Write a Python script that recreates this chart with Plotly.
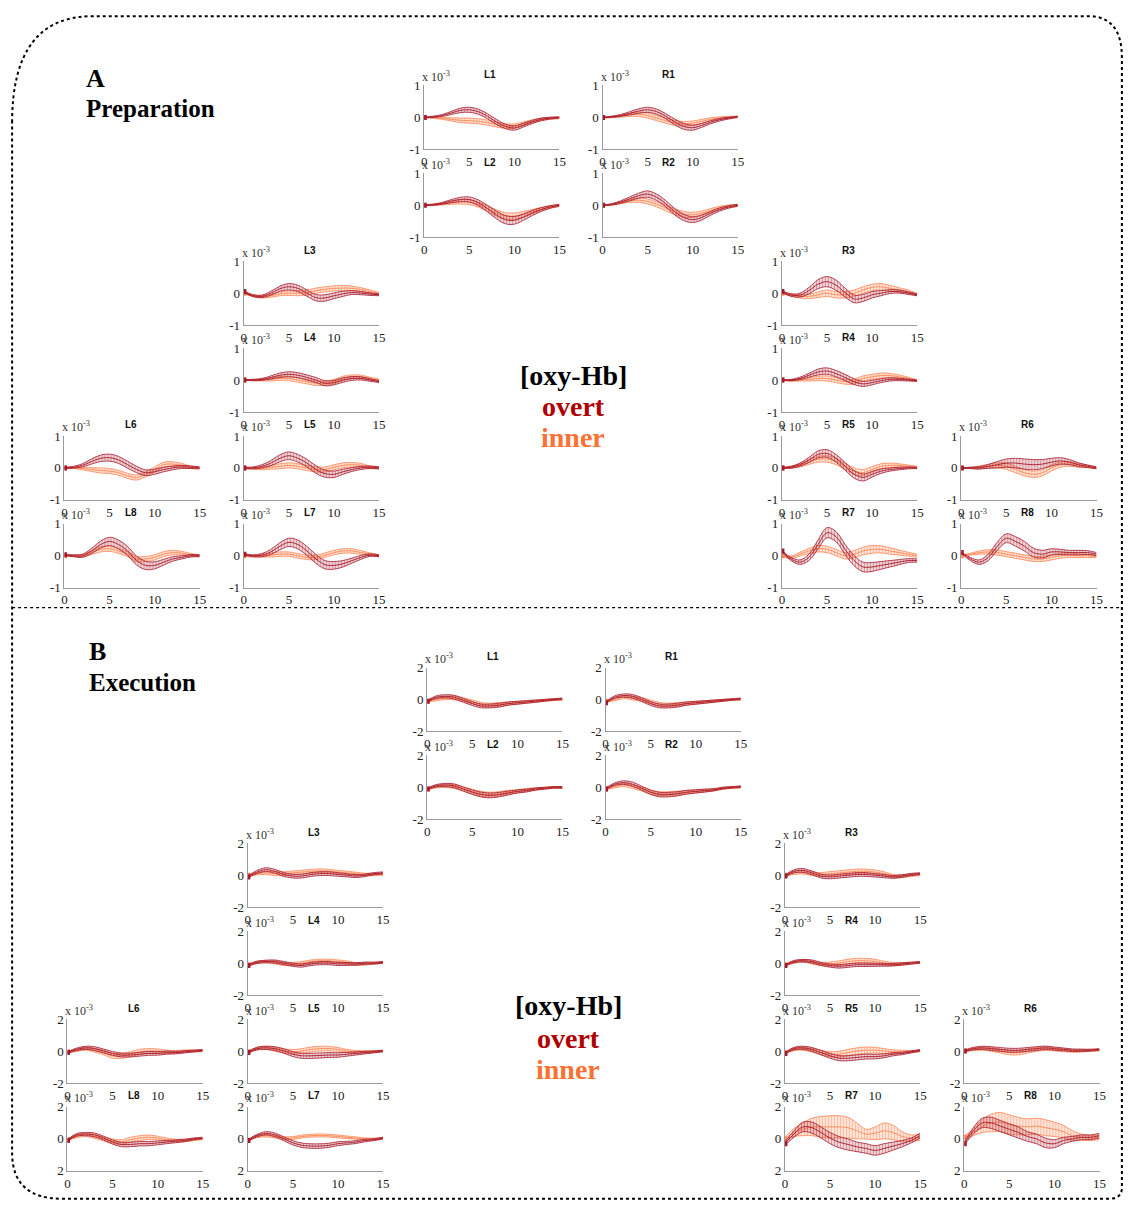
import plotly.graph_objects as go

W, H = 1137, 1216          # target window
OFF = 8                    # browser body margin
FW, FH = W - 2 * OFF, H - 2 * OFF
SX, OX = 0.99, 5.7         # empirical screen mapping (x_screen = OX + SX * x_page)
SY, OY = 0.989, 6.5
T = list(range(16))

# ---------------- Section A : Preparation (values x 1e-3) ----------------
A_L1_overt = [0, 0.02, 0.06, 0.14, 0.22, 0.24, 0.18, 0.04, -0.14, -0.28, -0.33, -0.24, -0.14, -0.06, -0.02, 0.0]
A_L1_overt_sd = [0.01, 0.02, 0.03, 0.05, 0.07, 0.08, 0.08, 0.08, 0.08, 0.07, 0.07, 0.06, 0.05, 0.04, 0.03, 0.02]
A_L1_inner = [0, -0.01, -0.03, -0.06, -0.09, -0.1, -0.12, -0.16, -0.22, -0.27, -0.27, -0.2, -0.12, -0.06, -0.03, -0.02]
A_L1_inner_sd = [0.01, 0.02, 0.03, 0.05, 0.07, 0.08, 0.08, 0.08, 0.08, 0.07, 0.07, 0.06, 0.05, 0.04, 0.03, 0.02]

A_R1_overt = [0, 0.02, 0.06, 0.13, 0.2, 0.24, 0.18, 0.04, -0.14, -0.28, -0.32, -0.25, -0.15, -0.07, -0.02, 0.02]
A_R1_overt_sd = [0.01, 0.02, 0.03, 0.05, 0.07, 0.08, 0.08, 0.08, 0.09, 0.09, 0.08, 0.06, 0.05, 0.04, 0.03, 0.02]
A_R1_inner = [0, 0.01, 0.04, 0.08, 0.1, 0.06, -0.02, -0.1, -0.17, -0.2, -0.18, -0.12, -0.06, -0.02, 0.0, 0.02]
A_R1_inner_sd = [0.01, 0.02, 0.03, 0.05, 0.07, 0.08, 0.08, 0.08, 0.08, 0.07, 0.07, 0.06, 0.05, 0.04, 0.03, 0.02]

A_L2_overt = [0, 0.02, 0.06, 0.13, 0.18, 0.18, 0.08, -0.1, -0.3, -0.45, -0.47, -0.37, -0.24, -0.13, -0.05, 0.0]
A_L2_overt_sd = [0.01, 0.02, 0.03, 0.05, 0.07, 0.08, 0.09, 0.1, 0.12, 0.13, 0.12, 0.1, 0.08, 0.06, 0.04, 0.03]
A_L2_inner = [0, 0.01, 0.04, 0.08, 0.11, 0.1, 0.02, -0.1, -0.24, -0.33, -0.34, -0.28, -0.2, -0.12, -0.05, 0.0]
A_L2_inner_sd = [0.01, 0.02, 0.03, 0.05, 0.07, 0.08, 0.08, 0.09, 0.1, 0.1, 0.1, 0.09, 0.07, 0.05, 0.04, 0.03]

A_R2_overt = [0, 0.03, 0.1, 0.2, 0.3, 0.35, 0.25, 0.05, -0.2, -0.38, -0.45, -0.38, -0.25, -0.13, -0.05, 0.0]
A_R2_overt_sd = [0.01, 0.02, 0.04, 0.06, 0.08, 0.1, 0.1, 0.1, 0.1, 0.1, 0.09, 0.08, 0.06, 0.05, 0.04, 0.03]
A_R2_inner = [0, 0.02, 0.08, 0.14, 0.16, 0.12, 0.03, -0.08, -0.2, -0.28, -0.3, -0.25, -0.16, -0.08, -0.03, 0.0]
A_R2_inner_sd = [0.01, 0.02, 0.03, 0.05, 0.07, 0.08, 0.08, 0.09, 0.09, 0.09, 0.08, 0.07, 0.06, 0.05, 0.04, 0.03]

A_L3_overt = [0.05, -0.08, -0.1, 0.0, 0.14, 0.2, 0.15, 0.0, -0.14, -0.15, -0.08, -0.02, 0.02, 0.0, -0.03, -0.05]
A_L3_overt_sd = [0.03, 0.03, 0.04, 0.06, 0.08, 0.1, 0.1, 0.1, 0.1, 0.1, 0.09, 0.08, 0.06, 0.05, 0.04, 0.03]
A_L3_inner = [0, -0.07, -0.11, -0.08, -0.02, 0.0, 0.0, 0.02, 0.08, 0.12, 0.15, 0.16, 0.15, 0.11, 0.05, -0.02]
A_L3_inner_sd = [0.02, 0.03, 0.04, 0.05, 0.06, 0.07, 0.08, 0.08, 0.08, 0.08, 0.08, 0.08, 0.07, 0.06, 0.05, 0.04]

A_R3_overt = [0.05, -0.06, -0.06, 0.08, 0.28, 0.36, 0.25, 0.02, -0.18, -0.15, -0.05, 0.0, 0.05, 0.05, 0.0, -0.05]
A_R3_overt_sd = [0.03, 0.04, 0.06, 0.1, 0.14, 0.16, 0.16, 0.14, 0.12, 0.11, 0.1, 0.08, 0.06, 0.05, 0.04, 0.03]
A_R3_inner = [0, -0.05, -0.1, -0.1, -0.05, 0.0, -0.05, -0.05, 0.0, 0.1, 0.18, 0.2, 0.15, 0.1, 0.05, -0.05]
A_R3_inner_sd = [0.02, 0.03, 0.05, 0.07, 0.09, 0.1, 0.1, 0.1, 0.1, 0.1, 0.1, 0.1, 0.09, 0.07, 0.05, 0.04]

A_L4_overt = [0, 0.0, 0.02, 0.08, 0.15, 0.18, 0.15, 0.08, 0.0, -0.1, -0.08, 0.0, 0.05, 0.05, 0.0, -0.05]
A_L4_overt_sd = [0.01, 0.02, 0.03, 0.05, 0.07, 0.08, 0.08, 0.08, 0.08, 0.08, 0.07, 0.07, 0.06, 0.05, 0.04, 0.03]
A_L4_inner = [0, 0.0, 0.0, 0.02, 0.05, 0.05, 0.0, -0.05, -0.1, -0.1, -0.05, 0.05, 0.1, 0.1, 0.05, 0.0]
A_L4_inner_sd = [0.01, 0.02, 0.03, 0.05, 0.06, 0.07, 0.07, 0.07, 0.07, 0.07, 0.07, 0.07, 0.06, 0.05, 0.04, 0.03]

A_R4_overt = [0, 0.0, 0.05, 0.15, 0.25, 0.28, 0.2, 0.08, -0.05, -0.12, -0.08, -0.02, 0.02, 0.02, 0.0, -0.02]
A_R4_overt_sd = [0.01, 0.02, 0.04, 0.06, 0.09, 0.1, 0.1, 0.1, 0.09, 0.08, 0.07, 0.06, 0.05, 0.04, 0.03, 0.02]
A_R4_inner = [0, -0.02, 0.0, 0.02, 0.05, 0.05, 0.0, -0.05, -0.05, 0.05, 0.1, 0.14, 0.14, 0.1, 0.05, -0.02]
A_R4_inner_sd = [0.01, 0.02, 0.03, 0.05, 0.07, 0.08, 0.08, 0.08, 0.08, 0.08, 0.08, 0.08, 0.07, 0.06, 0.04, 0.03]

A_L5_overt = [0, 0.0, 0.05, 0.15, 0.3, 0.38, 0.3, 0.15, -0.05, -0.18, -0.2, -0.12, -0.05, 0.0, 0.02, 0.0]
A_L5_overt_sd = [0.02, 0.03, 0.05, 0.08, 0.11, 0.12, 0.12, 0.12, 0.12, 0.11, 0.1, 0.08, 0.06, 0.05, 0.04, 0.03]
A_L5_inner = [0, -0.02, -0.02, 0.02, 0.05, 0.08, 0.05, 0.0, -0.05, -0.05, 0.02, 0.08, 0.1, 0.08, 0.02, 0.0]
A_L5_inner_sd = [0.02, 0.02, 0.04, 0.06, 0.08, 0.08, 0.08, 0.08, 0.08, 0.08, 0.08, 0.08, 0.07, 0.06, 0.04, 0.03]

A_R5_overt = [0, 0.02, 0.1, 0.25, 0.42, 0.45, 0.3, 0.05, -0.2, -0.3, -0.2, -0.1, -0.05, -0.02, 0.0, 0.0]
A_R5_overt_sd = [0.02, 0.03, 0.05, 0.08, 0.11, 0.12, 0.12, 0.12, 0.12, 0.11, 0.09, 0.07, 0.05, 0.04, 0.03, 0.02]
A_R5_inner = [0, 0.02, 0.08, 0.18, 0.27, 0.28, 0.2, 0.05, -0.1, -0.15, -0.05, 0.05, 0.08, 0.08, 0.05, 0.02]
A_R5_inner_sd = [0.02, 0.03, 0.05, 0.07, 0.09, 0.1, 0.1, 0.1, 0.1, 0.1, 0.09, 0.08, 0.07, 0.05, 0.04, 0.03]

A_L6_overt = [0, 0.02, 0.08, 0.2, 0.3, 0.32, 0.25, 0.1, -0.05, -0.15, -0.12, -0.05, 0.0, 0.03, 0.02, 0.0]
A_L6_overt_sd = [0.02, 0.03, 0.05, 0.08, 0.1, 0.11, 0.11, 0.11, 0.1, 0.09, 0.08, 0.07, 0.06, 0.05, 0.04, 0.03]
A_L6_inner = [0, 0.0, -0.02, -0.05, -0.08, -0.1, -0.15, -0.25, -0.3, -0.2, -0.05, 0.1, 0.12, 0.08, 0.02, 0.0]
A_L6_inner_sd = [0.02, 0.02, 0.04, 0.06, 0.08, 0.08, 0.08, 0.08, 0.08, 0.08, 0.08, 0.08, 0.07, 0.06, 0.04, 0.03]

A_R6_overt = [0, 0.0, 0.0, 0.05, 0.1, 0.15, 0.15, 0.12, 0.1, 0.12, 0.18, 0.22, 0.18, 0.1, 0.05, 0.0]
A_R6_overt_sd = [0.01, 0.02, 0.04, 0.06, 0.1, 0.13, 0.15, 0.16, 0.16, 0.14, 0.12, 0.1, 0.08, 0.06, 0.04, 0.03]
A_R6_inner = [0, 0.0, 0.02, 0.05, 0.08, 0.05, -0.05, -0.15, -0.2, -0.15, 0.0, 0.1, 0.12, 0.08, 0.05, 0.0]
A_R6_inner_sd = [0.01, 0.02, 0.04, 0.06, 0.08, 0.1, 0.1, 0.1, 0.1, 0.1, 0.1, 0.08, 0.07, 0.06, 0.04, 0.03]

A_L7_overt = [0.05, 0.0, 0.02, 0.12, 0.3, 0.42, 0.35, 0.15, -0.1, -0.28, -0.3, -0.25, -0.15, -0.05, 0.02, 0.0]
A_L7_overt_sd = [0.02, 0.03, 0.05, 0.08, 0.11, 0.13, 0.14, 0.14, 0.14, 0.13, 0.12, 0.1, 0.08, 0.06, 0.04, 0.03]
A_L7_inner = [0, -0.02, 0.0, 0.02, 0.05, 0.05, 0.0, -0.05, -0.05, 0.02, 0.1, 0.15, 0.15, 0.1, 0.05, 0.0]
A_L7_inner_sd = [0.02, 0.02, 0.04, 0.06, 0.07, 0.07, 0.07, 0.07, 0.07, 0.07, 0.07, 0.07, 0.07, 0.06, 0.04, 0.03]

A_R7_overt = [0.15, -0.1, -0.2, -0.05, 0.35, 0.72, 0.6, 0.2, -0.15, -0.35, -0.35, -0.3, -0.25, -0.2, -0.15, -0.15]
A_R7_overt_sd = [0.02, 0.05, 0.07, 0.1, 0.14, 0.16, 0.16, 0.16, 0.16, 0.15, 0.14, 0.12, 0.1, 0.08, 0.06, 0.05]
A_R7_inner = [0, -0.05, 0.05, 0.15, 0.22, 0.2, 0.1, 0.0, 0.05, 0.15, 0.2, 0.2, 0.15, 0.1, 0.05, 0.0]
A_R7_inner_sd = [0.02, 0.04, 0.06, 0.08, 0.1, 0.1, 0.1, 0.1, 0.11, 0.12, 0.12, 0.11, 0.1, 0.08, 0.06, 0.05]

A_L8_overt = [0.03, 0.0, 0.0, 0.15, 0.35, 0.45, 0.35, 0.15, -0.15, -0.3, -0.3, -0.2, -0.1, -0.05, 0.0, 0.0]
A_L8_overt_sd = [0.02, 0.03, 0.05, 0.08, 0.11, 0.13, 0.14, 0.14, 0.14, 0.13, 0.11, 0.09, 0.07, 0.05, 0.04, 0.03]
A_L8_inner = [0, 0.0, 0.0, 0.1, 0.2, 0.22, 0.15, 0.05, -0.1, -0.1, -0.05, 0.05, 0.1, 0.08, 0.03, 0.0]
A_L8_inner_sd = [0.02, 0.02, 0.04, 0.06, 0.08, 0.08, 0.08, 0.08, 0.08, 0.08, 0.08, 0.08, 0.07, 0.06, 0.04, 0.03]

A_R8_overt = [0.1, -0.1, -0.2, -0.05, 0.3, 0.55, 0.45, 0.3, 0.1, 0.05, 0.12, 0.12, 0.1, 0.1, 0.1, 0.05]
A_R8_overt_sd = [0.02, 0.05, 0.07, 0.1, 0.13, 0.14, 0.15, 0.15, 0.14, 0.12, 0.1, 0.08, 0.07, 0.07, 0.06, 0.05]
A_R8_inner = [0, 0.05, 0.1, 0.12, 0.1, 0.05, 0.0, -0.05, -0.1, -0.1, -0.05, 0.0, 0.02, 0.0, 0.0, -0.02]
A_R8_inner_sd = [0.02, 0.03, 0.05, 0.07, 0.08, 0.08, 0.08, 0.08, 0.08, 0.08, 0.08, 0.08, 0.07, 0.06, 0.05, 0.04]

# ---------------- Section B : Execution (values x 1e-3) ----------------
B_L1_overt = [-0.1, 0.15, 0.2, 0.15, -0.05, -0.25, -0.4, -0.4, -0.35, -0.25, -0.2, -0.15, -0.1, -0.05, 0.0, 0.05]
B_L1_overt_sd = [0.05, 0.08, 0.1, 0.12, 0.12, 0.12, 0.12, 0.12, 0.12, 0.1, 0.09, 0.08, 0.07, 0.06, 0.05, 0.05]
B_L1_inner = [-0.1, 0.0, 0.1, 0.1, 0.0, -0.15, -0.3, -0.35, -0.3, -0.25, -0.2, -0.15, -0.1, -0.05, 0.0, 0.0]
B_L1_inner_sd = [0.05, 0.08, 0.1, 0.12, 0.12, 0.12, 0.12, 0.12, 0.12, 0.1, 0.09, 0.08, 0.07, 0.06, 0.05, 0.05]

B_R1_overt = [-0.2, 0.15, 0.25, 0.2, 0.0, -0.25, -0.4, -0.4, -0.35, -0.25, -0.2, -0.15, -0.1, -0.05, 0.0, 0.05]
B_R1_overt_sd = [0.05, 0.08, 0.1, 0.12, 0.12, 0.12, 0.12, 0.12, 0.12, 0.1, 0.09, 0.08, 0.07, 0.06, 0.05, 0.05]
B_R1_inner = [-0.1, 0.0, 0.15, 0.1, 0.0, -0.15, -0.3, -0.35, -0.3, -0.25, -0.2, -0.15, -0.1, -0.05, 0.0, 0.0]
B_R1_inner_sd = [0.05, 0.08, 0.1, 0.12, 0.12, 0.12, 0.12, 0.12, 0.12, 0.1, 0.09, 0.08, 0.07, 0.06, 0.05, 0.05]

B_L2_overt = [-0.1, 0.1, 0.15, 0.1, -0.1, -0.3, -0.45, -0.5, -0.45, -0.35, -0.25, -0.2, -0.1, -0.05, 0.0, 0.0]
B_L2_overt_sd = [0.05, 0.08, 0.1, 0.12, 0.13, 0.14, 0.15, 0.15, 0.14, 0.12, 0.1, 0.09, 0.07, 0.06, 0.05, 0.05]
B_L2_inner = [-0.1, 0.05, 0.1, 0.05, -0.1, -0.25, -0.4, -0.45, -0.4, -0.3, -0.25, -0.15, -0.1, -0.05, 0.0, 0.0]
B_L2_inner_sd = [0.05, 0.08, 0.1, 0.12, 0.13, 0.14, 0.15, 0.15, 0.14, 0.12, 0.1, 0.09, 0.07, 0.06, 0.05, 0.05]

B_R2_overt = [-0.1, 0.2, 0.3, 0.2, -0.05, -0.3, -0.45, -0.45, -0.4, -0.3, -0.25, -0.2, -0.15, -0.05, 0.0, 0.05]
B_R2_overt_sd = [0.05, 0.08, 0.11, 0.13, 0.13, 0.14, 0.14, 0.14, 0.13, 0.12, 0.1, 0.09, 0.07, 0.06, 0.05, 0.05]
B_R2_inner = [-0.1, 0.05, 0.15, 0.05, -0.1, -0.3, -0.4, -0.4, -0.35, -0.3, -0.25, -0.2, -0.15, -0.05, 0.0, 0.0]
B_R2_inner_sd = [0.05, 0.08, 0.1, 0.12, 0.12, 0.13, 0.13, 0.13, 0.12, 0.11, 0.1, 0.09, 0.07, 0.06, 0.05, 0.05]

B_L3_overt = [-0.1, 0.2, 0.35, 0.25, 0.05, -0.05, -0.05, 0.05, 0.1, 0.1, 0.05, 0.0, -0.05, 0.0, 0.1, 0.15]
B_L3_overt_sd = [0.05, 0.1, 0.12, 0.12, 0.12, 0.12, 0.12, 0.12, 0.12, 0.12, 0.11, 0.1, 0.09, 0.08, 0.07, 0.06]
B_L3_inner = [0.0, 0.1, 0.15, 0.1, 0.1, 0.15, 0.2, 0.25, 0.28, 0.25, 0.2, 0.15, 0.1, 0.05, 0.05, 0.05]
B_L3_inner_sd = [0.05, 0.08, 0.1, 0.12, 0.12, 0.12, 0.12, 0.12, 0.12, 0.12, 0.11, 0.1, 0.09, 0.08, 0.07, 0.06]

B_R3_overt = [-0.05, 0.25, 0.3, 0.15, -0.05, -0.1, -0.05, 0.0, 0.05, 0.05, 0.0, -0.05, -0.1, -0.05, 0.05, 0.1]
B_R3_overt_sd = [0.05, 0.1, 0.12, 0.12, 0.12, 0.12, 0.12, 0.12, 0.12, 0.12, 0.11, 0.1, 0.09, 0.08, 0.07, 0.06]
B_R3_inner = [0.0, 0.15, 0.2, 0.1, 0.05, 0.1, 0.15, 0.2, 0.25, 0.25, 0.2, 0.1, -0.05, -0.05, 0.0, 0.05]
B_R3_inner_sd = [0.05, 0.1, 0.12, 0.12, 0.12, 0.13, 0.13, 0.14, 0.14, 0.14, 0.13, 0.12, 0.1, 0.09, 0.08, 0.07]

B_L4_overt = [-0.15, 0.05, 0.1, 0.1, 0.0, -0.1, -0.15, -0.05, 0.0, 0.0, -0.05, -0.05, -0.05, 0.0, 0.0, 0.05]
B_L4_overt_sd = [0.05, 0.07, 0.08, 0.1, 0.1, 0.1, 0.1, 0.1, 0.1, 0.1, 0.1, 0.09, 0.08, 0.07, 0.06, 0.05]
B_L4_inner = [-0.1, 0.05, 0.1, 0.05, -0.05, -0.05, 0.0, 0.1, 0.15, 0.15, 0.1, 0.05, -0.05, -0.05, 0.0, 0.05]
B_L4_inner_sd = [0.05, 0.07, 0.08, 0.1, 0.1, 0.1, 0.1, 0.1, 0.1, 0.1, 0.1, 0.09, 0.08, 0.07, 0.06, 0.05]

B_R4_overt = [-0.15, 0.1, 0.15, 0.1, -0.05, -0.15, -0.2, -0.15, -0.1, -0.1, -0.1, -0.1, -0.1, -0.05, 0.0, 0.05]
B_R4_overt_sd = [0.05, 0.07, 0.08, 0.1, 0.1, 0.1, 0.11, 0.11, 0.11, 0.11, 0.1, 0.09, 0.08, 0.07, 0.06, 0.05]
B_R4_inner = [-0.1, 0.05, 0.15, 0.05, -0.05, -0.05, 0.0, 0.1, 0.15, 0.15, 0.1, 0.0, -0.05, -0.05, 0.0, 0.05]
B_R4_inner_sd = [0.05, 0.07, 0.08, 0.1, 0.1, 0.12, 0.14, 0.15, 0.15, 0.15, 0.14, 0.12, 0.1, 0.08, 0.06, 0.05]

B_L5_overt = [-0.1, 0.15, 0.2, 0.15, 0.0, -0.2, -0.3, -0.3, -0.28, -0.25, -0.25, -0.2, -0.15, -0.1, -0.05, 0.0]
B_L5_overt_sd = [0.05, 0.08, 0.1, 0.12, 0.14, 0.15, 0.16, 0.16, 0.16, 0.15, 0.14, 0.12, 0.1, 0.08, 0.06, 0.05]
B_L5_inner = [-0.05, 0.15, 0.2, 0.1, 0.0, -0.05, 0.0, 0.1, 0.15, 0.15, 0.1, 0.0, -0.05, -0.05, -0.05, 0.0]
B_L5_inner_sd = [0.05, 0.08, 0.1, 0.12, 0.13, 0.14, 0.15, 0.15, 0.15, 0.14, 0.12, 0.1, 0.08, 0.07, 0.06, 0.05]

B_R5_overt = [-0.15, 0.15, 0.2, 0.1, -0.1, -0.3, -0.45, -0.45, -0.4, -0.35, -0.35, -0.3, -0.2, -0.15, -0.05, 0.05]
B_R5_overt_sd = [0.05, 0.08, 0.1, 0.12, 0.14, 0.15, 0.16, 0.16, 0.16, 0.15, 0.14, 0.12, 0.1, 0.08, 0.06, 0.05]
B_R5_inner = [-0.1, 0.1, 0.15, 0.05, -0.1, -0.2, -0.2, -0.1, 0.0, 0.05, 0.05, 0.0, -0.05, -0.05, -0.05, 0.0]
B_R5_inner_sd = [0.05, 0.08, 0.1, 0.12, 0.14, 0.16, 0.18, 0.2, 0.2, 0.2, 0.18, 0.15, 0.12, 0.1, 0.07, 0.05]

B_L6_overt = [-0.1, 0.1, 0.2, 0.15, 0.0, -0.15, -0.25, -0.25, -0.2, -0.15, -0.15, -0.1, -0.1, -0.05, 0.0, 0.05]
B_L6_overt_sd = [0.05, 0.08, 0.1, 0.12, 0.12, 0.12, 0.12, 0.12, 0.12, 0.12, 0.11, 0.1, 0.08, 0.07, 0.06, 0.05]
B_L6_inner = [-0.05, 0.05, 0.15, 0.05, -0.1, -0.3, -0.3, -0.2, -0.05, 0.0, 0.0, -0.05, -0.05, 0.0, 0.0, 0.0]
B_L6_inner_sd = [0.05, 0.08, 0.1, 0.12, 0.14, 0.15, 0.16, 0.16, 0.16, 0.15, 0.13, 0.1, 0.08, 0.07, 0.06, 0.05]

B_R6_overt = [0.0, 0.15, 0.2, 0.15, 0.1, 0.05, 0.05, 0.1, 0.15, 0.2, 0.15, 0.1, 0.05, 0.05, 0.05, 0.1]
B_R6_overt_sd = [0.05, 0.08, 0.1, 0.12, 0.12, 0.12, 0.12, 0.12, 0.12, 0.11, 0.1, 0.09, 0.08, 0.07, 0.06, 0.05]
B_R6_inner = [0.0, 0.1, 0.15, 0.1, 0.0, -0.1, -0.1, 0.0, 0.1, 0.15, 0.1, 0.05, 0.0, 0.0, 0.05, 0.05]
B_R6_inner_sd = [0.05, 0.08, 0.1, 0.12, 0.12, 0.14, 0.14, 0.13, 0.12, 0.11, 0.1, 0.09, 0.08, 0.07, 0.06, 0.05]

B_L7_overt = [-0.1, 0.2, 0.35, 0.25, 0.0, -0.25, -0.4, -0.45, -0.45, -0.4, -0.3, -0.25, -0.2, -0.1, -0.05, 0.05]
B_L7_overt_sd = [0.05, 0.08, 0.1, 0.12, 0.12, 0.13, 0.14, 0.14, 0.14, 0.13, 0.12, 0.1, 0.09, 0.08, 0.06, 0.05]
B_L7_inner = [-0.1, 0.15, 0.2, 0.15, 0.05, 0.05, 0.15, 0.2, 0.22, 0.2, 0.15, 0.1, 0.05, 0.0, 0.0, 0.05]
B_L7_inner_sd = [0.05, 0.07, 0.08, 0.09, 0.09, 0.09, 0.09, 0.09, 0.09, 0.09, 0.09, 0.08, 0.07, 0.06, 0.05, 0.05]

B_R7_overt = [-0.3, 0.3, 0.75, 0.7, 0.4, 0.05, -0.2, -0.35, -0.5, -0.6, -0.72, -0.6, -0.45, -0.3, -0.1, 0.2]
B_R7_overt_sd = [0.1, 0.2, 0.3, 0.35, 0.35, 0.35, 0.35, 0.35, 0.3, 0.3, 0.3, 0.3, 0.25, 0.2, 0.15, 0.15]
B_R7_inner = [0.0, 0.4, 0.6, 0.75, 0.75, 0.75, 0.75, 0.7, 0.5, 0.3, 0.35, 0.5, 0.4, 0.15, 0.05, 0.1]
B_R7_inner_sd = [0.1, 0.25, 0.4, 0.55, 0.65, 0.7, 0.7, 0.65, 0.5, 0.3, 0.4, 0.5, 0.45, 0.3, 0.2, 0.2]

B_L8_overt = [-0.1, 0.25, 0.3, 0.25, 0.05, -0.2, -0.35, -0.35, -0.3, -0.3, -0.25, -0.2, -0.15, -0.1, 0.0, 0.05]
B_L8_overt_sd = [0.05, 0.08, 0.1, 0.12, 0.12, 0.13, 0.14, 0.14, 0.14, 0.13, 0.12, 0.1, 0.09, 0.08, 0.06, 0.05]
B_L8_inner = [-0.05, 0.15, 0.25, 0.15, 0.0, -0.15, -0.2, -0.05, 0.05, 0.1, 0.05, -0.05, -0.1, -0.1, -0.05, 0.0]
B_L8_inner_sd = [0.05, 0.08, 0.1, 0.12, 0.13, 0.14, 0.15, 0.15, 0.15, 0.14, 0.12, 0.1, 0.08, 0.07, 0.06, 0.05]

B_R8_overt = [-0.3, 0.5, 1.0, 1.0, 0.8, 0.6, 0.4, 0.15, 0.0, -0.25, -0.3, -0.1, 0.0, 0.1, 0.1, 0.2]
B_R8_overt_sd = [0.1, 0.2, 0.3, 0.35, 0.35, 0.35, 0.35, 0.3, 0.3, 0.3, 0.25, 0.2, 0.15, 0.15, 0.15, 0.15]
B_R8_inner = [0.1, 0.4, 0.8, 1.0, 1.05, 0.9, 0.8, 0.75, 0.8, 0.7, 0.6, 0.45, 0.2, 0.1, 0.05, 0.1]
B_R8_inner_sd = [0.1, 0.2, 0.4, 0.55, 0.6, 0.6, 0.55, 0.5, 0.5, 0.5, 0.45, 0.4, 0.3, 0.2, 0.15, 0.15]

X_TICKS = [0, 5, 10, 15]
A_Y_TICKS = [-1, 0, 1]
B_Y_TICKS = [-2, 0, 2]
CHANNELS = ["L1", "R1", "L2", "R2", "L3", "R3", "L4", "R4", "L5", "R5", "L6", "R6", "L7", "R7", "L8", "R8"]

# ---------------- layout geometry (reference pixels) ----------------
CH_GRID = {"L1": (2, 0), "R1": (3, 0), "L2": (2, 1), "R2": (3, 1),
           "L3": (1, 2), "R3": (4, 2), "L4": (1, 3), "R4": (4, 3),
           "L5": (1, 4), "L6": (0, 4), "R5": (4, 4), "R6": (5, 4),
           "L7": (1, 5), "L8": (0, 5), "R7": (4, 5), "R8": (5, 5)}
SECTIONS = {
    "A": dict(cols=[67, 246, 426, 604, 783, 962], width=135,
              rows=[85, 173, 261, 348, 436, 524], height=64, yr=1, yticks=A_Y_TICKS),
    "B": dict(cols=[70, 250, 429, 607, 786, 965], width=135,
              rows=[668, 756, 844, 932, 1020, 1108], height=64, yr=2, yticks=B_Y_TICKS),
}

OVERT_LINE = "rgb(165,25,45)"
OVERT_PAT = "rgba(165,25,45,0.75)"
OVERT_BG = "rgba(190,60,70,0.18)"
INNER_LINE = "rgb(255,135,85)"
INNER_PAT = "rgba(255,125,70,0.85)"
INNER_BG = "rgba(255,160,120,0.22)"

SERIF = "Liberation Serif"
SANS = "Liberation Sans"


def px(x):
    xp = (x - OX) / SX
    return (xp - OFF) / FW


def py(y):
    yp = (y - OY) / SY
    return 1 - (yp - OFF) / FH


def clamp(v):
    return min(max(v, 0.001), 0.999)


fig = go.Figure()
layout = dict(width=FW, height=FH, autosize=False, margin=dict(l=0, r=0, t=0, b=0),
              paper_bgcolor="white", plot_bgcolor="rgba(0,0,0,0)", showlegend=False)
annotations = []
shapes = []

k = 0
for sec in ["A", "B"]:
    g = SECTIONS[sec]
    for ch in CHANNELS:
        k += 1
        ci, ri = CH_GRID[ch]
        x0 = g["cols"][ci]
        x1 = x0 + g["width"]
        top = g["rows"][ri]
        bot = top + g["height"]
        xa = "x" if k == 1 else f"x{k}"
        ya = "y" if k == 1 else f"y{k}"
        xkey = "xaxis" if k == 1 else f"xaxis{k}"
        ykey = "yaxis" if k == 1 else f"yaxis{k}"
        yr = g["yr"]
        ytext = [str(v) for v in g["yticks"]]
        if sec == "B" and ri == 5:
            ytext[0] = "2"
        layout[xkey] = dict(domain=[px(x0), px(x1)], range=[0, 15], anchor=ya,
                            showline=True, linecolor="#9a9a9a", linewidth=1.3,
                            showgrid=False, zeroline=False, ticks="",
                            tickvals=X_TICKS, ticktext=[str(v) for v in X_TICKS],
                            tickfont=dict(family=SERIF, size=13, color="#222"),
                            fixedrange=True)
        layout[ykey] = dict(domain=[py(bot), py(top)], range=[-yr, yr], anchor=xa,
                            showline=True, linecolor="#9a9a9a", linewidth=1.3,
                            showgrid=False, zeroline=False, ticks="",
                            tickvals=g["yticks"], ticktext=ytext,
                            tickfont=dict(family=SERIF, size=13, color="#222"),
                            fixedrange=True)
        for kind in ["inner", "overt"]:
            mean = globals()[f"{sec}_{ch}_{kind}"]
            sd = globals()[f"{sec}_{ch}_{kind}_sd"]
            lo = [m - s for m, s in zip(mean, sd)]
            hi = [m + s for m, s in zip(mean, sd)]
            if kind == "overt":
                lc, pc, bc = OVERT_LINE, OVERT_PAT, OVERT_BG
            else:
                lc, pc, bc = INNER_LINE, INNER_PAT, INNER_BG
            fig.add_trace(go.Scatter(x=T, y=lo, mode="lines", xaxis=xa, yaxis=ya,
                                     line=dict(color=lc, width=0.8, shape="spline"),
                                     hoverinfo="skip"))
            fig.add_trace(go.Scatter(x=T, y=hi, mode="lines", xaxis=xa, yaxis=ya,
                                     line=dict(color=lc, width=0.8, shape="spline"),
                                     fill="tonexty", fillcolor=bc,
                                     fillpattern=dict(shape="|", size=3, solidity=0.4,
                                                      fgcolor=pc, bgcolor=bc),
                                     hoverinfo="skip"))
            fig.add_trace(go.Scatter(x=T, y=mean, mode="lines", xaxis=xa, yaxis=ya,
                                     line=dict(color=lc, width=0.9, shape="spline"),
                                     name=f"{sec} {ch} {kind}"))
            fig.add_trace(go.Scatter(x=T[:1], y=mean[:1], mode="markers", xaxis=xa, yaxis=ya,
                                     marker=dict(color=lc, size=5, symbol="square"),
                                     hoverinfo="skip"))
        # channel title
        annotations.append(dict(xref="paper", yref="paper", x=px(x0 + 66), y=py(top - 11),
                                text=f"<b>{ch}</b>", showarrow=False,
                                font=dict(family=SANS, size=10, color="#111"),
                                xanchor="center", yanchor="middle"))
        # exponent label
        annotations.append(dict(xref="paper", yref="paper", x=px(x0 - 4), y=py(top - 9),
                                text="x 10<sup>-3</sup>", showarrow=False,
                                font=dict(family=SERIF, size=12, color="#333"),
                                xanchor="left", yanchor="middle"))

# Section headings
for lbl, sub, xx, y1, y2 in [("A", "Preparation", 86, 78, 108), ("B", "Execution", 89, 652, 683)]:
    annotations.append(dict(xref="paper", yref="paper", x=px(xx), y=py(y1), text=f"<b>{lbl}</b>",
                            showarrow=False, xanchor="left", yanchor="middle",
                            font=dict(family=SERIF, size=26, color="black")))
    annotations.append(dict(xref="paper", yref="paper", x=px(xx), y=py(y2), text=f"<b>{sub}</b>",
                            showarrow=False, xanchor="left", yanchor="middle",
                            font=dict(family=SERIF, size=25, color="black")))

# Legends in the middle
for cx, ys in [(575, (375, 407, 438)), (570, (1006, 1039, 1071))]:
    for txt, col, yy in zip(["[oxy-Hb]", "overt", "inner"], ["black", "#b00000", "#ff7033"], ys):
        annotations.append(dict(xref="paper", yref="paper", x=px(cx), y=py(yy), text=f"<b>{txt}</b>",
                                showarrow=False, xanchor="center", yanchor="middle",
                                font=dict(family=SERIF, size=28, color=col)))

# Rounded dotted frame
L, Tp, R, B = 10, 12, 1134, 1214


def P(x, y):
    return f"{clamp(px(x)):.5f},{clamp(py(y)):.5f}"


path = (f"M {P(L, Tp + 110)} Q {P(L, Tp)} {P(L + 85, Tp)} "
        f"L {P(R - 45, Tp)} Q {P(R, Tp)} {P(R, Tp + 45)} "
        f"L {P(R, B - 25)} Q {P(R, B)} {P(R - 25, B)} "
        f"L {P(L + 55, B)} Q {P(L, B)} {P(L, B - 60)} Z")
shapes.append(dict(type="path", xref="paper", yref="paper", path=path,
                   line=dict(color="black", width=2, dash="dot")))
shapes.append(dict(type="line", xref="paper", yref="paper", x0=clamp(px(10)), x1=0.999,
                   y0=py(608), y1=py(608), line=dict(color="black", width=1.3, dash="dot")))

layout["annotations"] = annotations
layout["shapes"] = shapes
fig.update_layout(**layout)
fig.write_html("out.html")
